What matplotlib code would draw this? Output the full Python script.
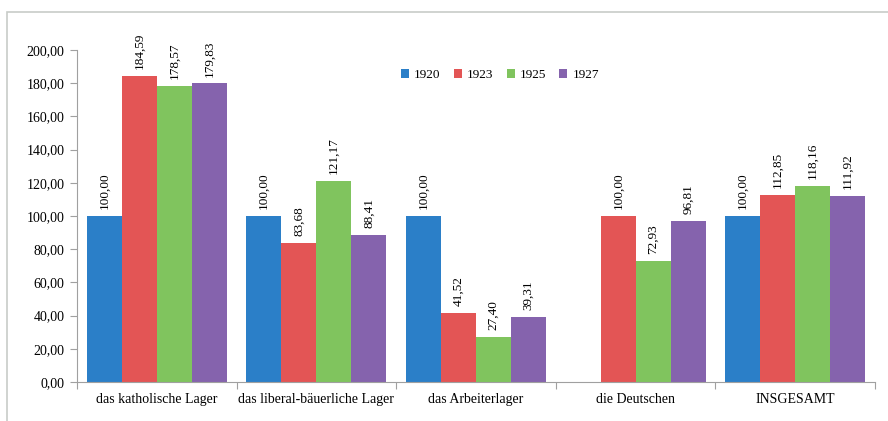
import matplotlib
matplotlib.use("Agg")
import matplotlib.pyplot as plt
import numpy as np
from matplotlib.patches import Rectangle

categories = ["das katholische Lager", "das liberal-bäuerliche Lager", "das Arbeiterlager",
              "die Deutschen", "INSGESAMT"]
years = ["1920", "1923", "1925", "1927"]
v1920 = [100.00, 100.00, 100.00, np.nan, 100.00]
v1923 = [184.59, 83.68, 41.52, 100.00, 112.85]
v1925 = [178.57, 121.17, 27.40, 72.93, 118.16]
v1927 = [179.83, 88.41, 39.31, 96.81, 111.92]
series = [v1920, v1923, v1925, v1927]
colors = ["#2B7FC8", "#E35555", "#80C45E", "#8563AD"]
yticks = [0, 20, 40, 60, 80, 100, 120, 140, 160, 180, 200]

plt.rcParams['font.family'] = ['Liberation Serif', 'DejaVu Serif']

fig = plt.figure(figsize=(8.88, 4.21), dpi=100)
# outer border (chart area frame, partially cropped)
fig.patches.append(Rectangle((7/888, -0.1), 1.2, (421-12)/421 + 0.1, transform=fig.transFigure,
                             fill=False, edgecolor="#C8CCC8", linewidth=1.2))

ax = fig.add_axes([77/888, 39/421, 798/888, 332/421])
x = np.arange(len(categories))
w = 0.219
for i, (vals, c, yr) in enumerate(zip(series, colors, years)):
    pos = x + (i - 1.5) * w
    ax.bar(pos, vals, width=w, color=c, label=yr)
    for p, v in zip(pos, vals):
        if np.isnan(v):
            continue
        ax.annotate(f"{v:.2f}".replace(".", ","), (p, v), xytext=(0, 5), textcoords="offset points",
                    rotation=90, ha="center", va="bottom", fontsize=9.5)

ax.set_xlim(-0.5, len(categories) - 0.5)
ax.set_ylim(0, 200)
ax.set_yticks(yticks)
ax.set_yticklabels([f"{t:.2f}".replace(".", ",") for t in yticks], fontsize=10)
ax.set_xticks(np.arange(len(categories) + 1) - 0.5)
ax.set_xticklabels([])
ax.set_xticks(x, minor=True)
ax.set_xticklabels(categories, minor=True, fontsize=10)
ax.tick_params(axis="x", which="minor", length=0, pad=8)
ax.tick_params(axis="x", which="major", length=5, color="#A0A0A0")
ax.tick_params(axis="y", length=5, color="#A0A0A0", pad=4)
for s in ["top", "right"]:
    ax.spines[s].set_visible(False)
for s in ["left", "bottom"]:
    ax.spines[s].set_color("#A0A0A0")
    ax.spines[s].set_linewidth(0.8)

leg = ax.legend(ncol=4, loc="center", bbox_to_anchor=((500-77)/798, (382-75)/332), frameon=False,
                handlelength=0.6, handleheight=0.6, handletextpad=0.4, columnspacing=1.0,
                fontsize=9.5)

fig.savefig("out.png", dpi=100)
